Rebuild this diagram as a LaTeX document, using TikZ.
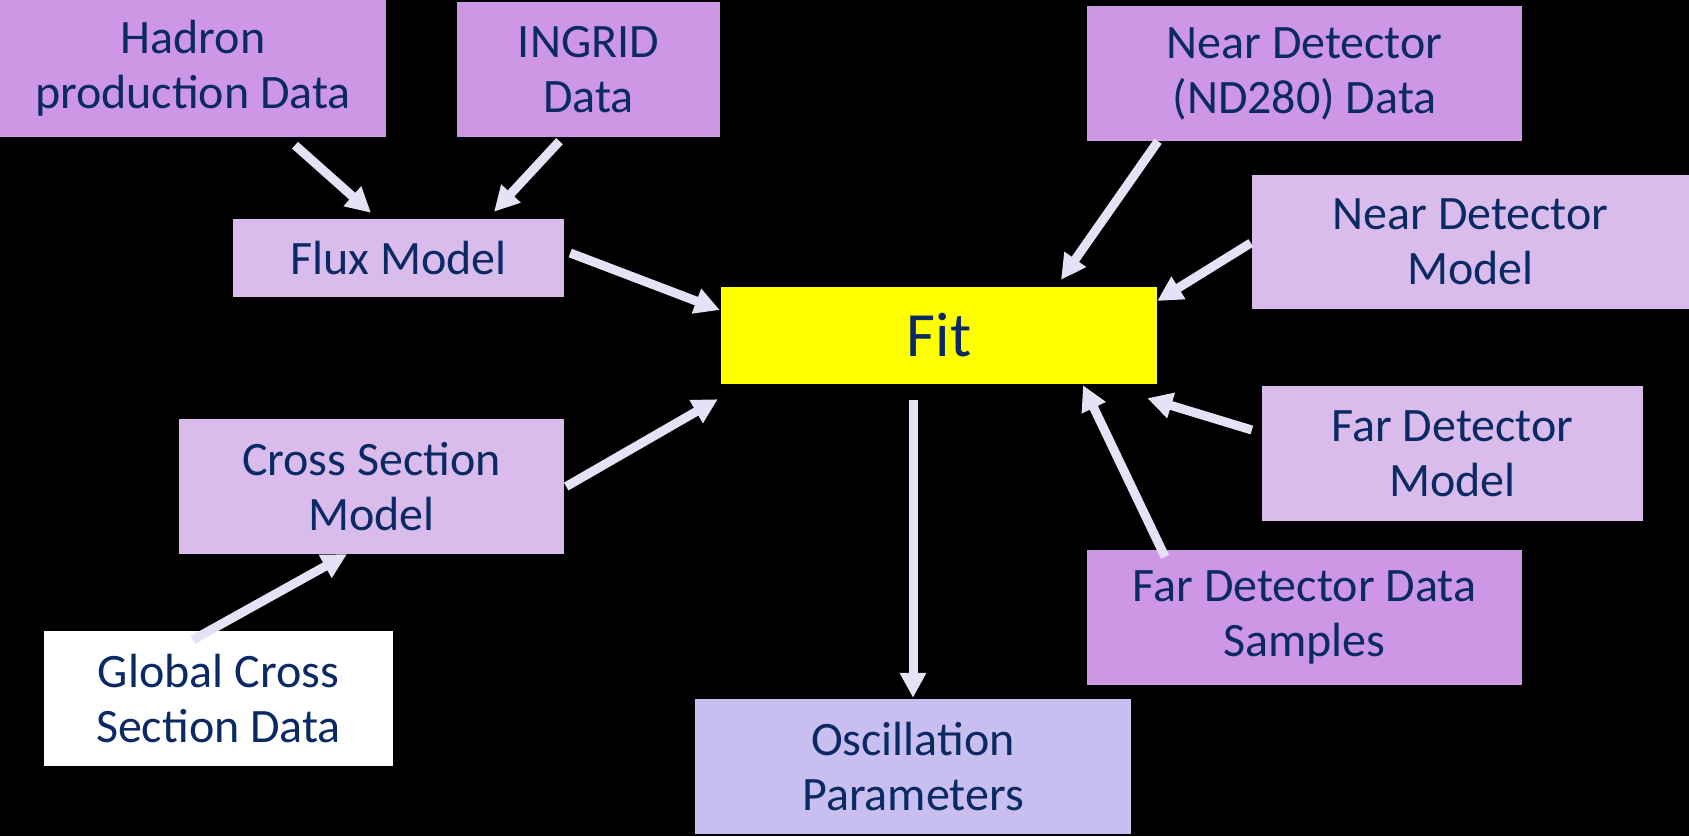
\documentclass[tikz,border=0pt]{standalone}
\usepackage{fontspec}
\setmainfont{Carlito}
\usetikzlibrary{arrows.meta,calc}
\definecolor{dpurp}{HTML}{CE97E5}
\definecolor{lpurp}{HTML}{D9BBEC}
\definecolor{oscc}{HTML}{C8BEEF}
\definecolor{arrc}{HTML}{E5E1F7}
\definecolor{navy}{HTML}{0B2A63}
\definecolor{fity}{HTML}{FFFF00}
\tikzset{
  box/.style={rectangle, inner sep=0pt, align=center, text=navy,
    font=\fontsize{48}{55}\selectfont},
  databox/.style={box, fill=dpurp},
  modelbox/.style={box, fill=lpurp},
  arr/.style={draw=arrc, line width=9pt, -{Triangle[length=25pt,width=25pt]}},
}
\begin{document}
\begin{tikzpicture}[x=1pt,y=-1pt]
\fill[black] (0,0) rectangle (1689,836);
\useasboundingbox (0,0) rectangle (1689,836);
\node[databox, minimum width=386pt, minimum height=137pt] (had) at (193,68.5) {Hadron\\production Data};
\node[databox, minimum width=263pt, minimum height=135pt] (ing) at (588.5,69.5) {INGRID\\Data};
\node[databox, minimum width=435pt, minimum height=135pt] (nd) at (1304.5,73.5) {Near Detector\\(ND280) Data};
\node[modelbox, minimum width=331pt, minimum height=78pt] (flux) at (398.5,258) {Flux Model};
\node[modelbox, minimum width=437pt, minimum height=134pt] (ndm) at (1470.5,242) {Near Detector\\Model};
\node[box, fill=fity, minimum width=436pt, minimum height=97pt, font=\fontsize{63}{70}\selectfont] (fit) at (939,335.5) {Fit};
\node[modelbox, minimum width=385pt, minimum height=135pt] (xs) at (371.5,486.5) {Cross Section\\Model};
\node[modelbox, minimum width=381pt, minimum height=135pt] (fdm) at (1452.5,453.5) {Far Detector\\Model};
\node[databox, minimum width=435pt, minimum height=135pt] (fdd) at (1304.5,617.5) {Far Detector Data\\Samples};
\node[box, fill=white, minimum width=349pt, minimum height=135pt] (glob) at (218.5,698.5) {Global Cross\\Section Data};
\node[box, fill=oscc, minimum width=436pt, minimum height=135pt] (osc) at (913,766.5) {Oscillation\\Parameters};
% arrows
\draw[arr] ($(had.south)+(102,8)$) -- ($(flux.north)+(-27.5,-6)$);
\draw[arr] ($(ing.south)+(-29,4)$) -- ($(flux.north)+(95.5,-7)$);
\draw[arr] ($(flux.east)+(6,-5)$) -- ($(fit.west)+(-1,-25.5)$);
\draw[arr] ($(xs.east)+(2,0)$) -- ($(fit.south west)+(-3,15)$);
\draw[arr] ($(glob.north)+(-25.5,9)$) -- ($(xs.south)+(-24.5,0)$);
\draw[arr] ($(nd.south)+(-146.5,0)$) -- ($(fit.north)+(122,-7)$);
\draw[arr] ($(ndm.west)+(-1,1)$) -- ($(fit.east)+(0,-34.5)$);
\draw[arr] ($(fdm.west)+(-10,-23.5)$) -- ($(fit.south east)+(-10,14)$);
\draw[arr] ($(fdd.north)+(-139.5,7)$) -- ($(fit.south)+(144,1)$);
\draw[arr] ($(fit.south)+(-26,16)$) -- ($(osc.north)+(0,-1)$);
\end{tikzpicture}
\end{document}
